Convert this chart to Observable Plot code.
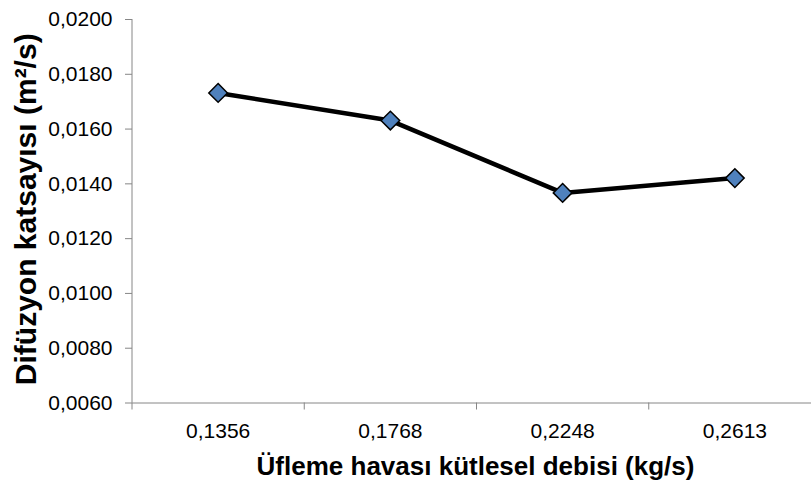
<!DOCTYPE html>
<html>
<head>
<meta charset="utf-8">
<script src="https://cdn.jsdelivr.net/npm/d3@7"></script>
<script src="https://cdn.jsdelivr.net/npm/@observablehq/plot@0.6"></script>
<style>
  html, body { margin: 0; padding: 0; background: #fff; }
  #chart svg { display: block; font-family: "Liberation Sans", Arial, sans-serif; }
</style>
</head>
<body>
<div id="chart"></div>
<script>
const categories = ["0,1356", "0,1768", "0,2248", "0,2613"];
const values = [0.01732, 0.01631, 0.01367, 0.01421];
const yTicks = [0.006, 0.008, 0.010, 0.012, 0.014, 0.016, 0.018, 0.020];
const xTitle = "Üfleme havası kütlesel debisi (kg/s)";
const yTitle = "Difüzyon katsayısı (m²/s)";

const data = categories.map((c, i) => ({ pos: i + 0.5, label: c, value: values[i] }));
const fmt = d => d3.format(".4f")(d).replace(".", ",");
const axisGray = "#868686";

const chart = Plot.plot({
  width: 811,
  height: 491,
  marginLeft: 132,
  marginRight: 0,
  marginTop: 19,
  marginBottom: 88.5,
  style: { fontFamily: "Liberation Sans, Arial, sans-serif", color: "black", background: "white" },
  x: { type: "linear", domain: [0, categories.length], range: [131.5, 820.5] },
  y: { domain: [0.006, 0.020] },
  marks: [
    Plot.ruleX([0], { stroke: axisGray, strokeWidth: 1 }),
    Plot.ruleY([0.006], { stroke: axisGray, strokeWidth: 1 }),
    Plot.axisY({ ticks: yTicks, tickSize: 7, tickPadding: 13, tickFormat: fmt, fontSize: 21, stroke: axisGray, fill: "black", label: null }),
    Plot.axisX({ ticks: [0, 1, 2, 3, 4], tickSize: 7, tickFormat: () => "", stroke: axisGray, label: null }),
    Plot.axisX({ ticks: data.map(d => d.pos), tickSize: 0, tickPadding: 20, tickFormat: d => categories[Math.floor(d)], fontSize: 21, fill: "black", label: null }),
    Plot.line(data, { x: "pos", y: "value", stroke: "black", strokeWidth: 4.5, strokeLinejoin: "round" }),
    Plot.dot(data, { x: "pos", y: "value", symbol: "diamond2", r: 8.4, fill: "#4F81BD", stroke: "black", strokeWidth: 1.5 }),
    Plot.text([xTitle], { frameAnchor: "bottom", dx: 3.5, dy: 71.5, fontSize: 26, fontWeight: "bold", fill: "black" }),
    Plot.text([yTitle], { frameAnchor: "left", textAnchor: "middle", rotate: -90, dx: -106, dy: -2, fontSize: 30, fontWeight: "bold", fill: "black" })
  ]
});
document.getElementById("chart").appendChild(chart);
</script>
</body>
</html>
